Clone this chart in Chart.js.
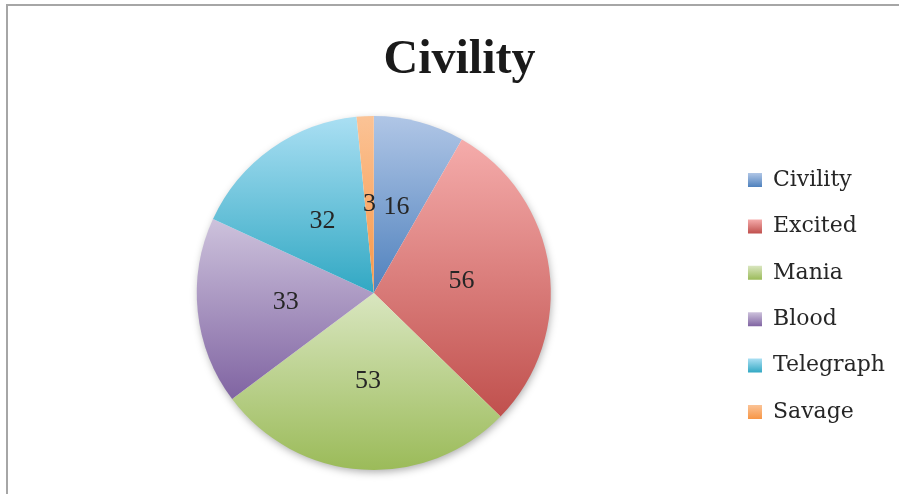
<!DOCTYPE html>
<html>
<head>
<meta charset="utf-8">
<script src="https://cdn.jsdelivr.net/npm/chart.js@4/dist/chart.umd.min.js"></script>
<style>
  html, body { margin: 0; padding: 0; background: #fff; }
  #wrap { position: relative; width: 899px; height: 494px; }
  #frame { position: absolute; left: 6px; top: 4px; width: 900px; height: 500px;
           border-top: 2px solid #a6a6a6; border-left: 2px solid #a6a6a6; box-sizing: border-box; }
  canvas { position: absolute; left: 0; top: 0; }
</style>
</head>
<body>
<div id="wrap">
  <div id="frame"></div>
  <canvas id="c" width="899" height="494"></canvas>
</div>
<script>
const categories = ['Civility', 'Excited', 'Mania', 'Blood', 'Telegraph', 'Savage'];
const values = [16, 56, 53, 33, 32, 3];
const titleText = 'Civility';
const topColors = ['#b0c6e6', '#f5acab', '#d9e6c0', '#cdc2dc', '#aadff3', '#fbc396'];
const bottomColors = ['#4f81bd', '#c0504d', '#9bbb59', '#8064a2', '#31a8c3', '#f79646'];

function arcYRange(el) {
  const pts = [el.y];
  const a0 = el.startAngle, a1 = el.endAngle, r = el.outerRadius;
  pts.push(el.y + r * Math.sin(a0), el.y + r * Math.sin(a1));
  for (let k = -4; k <= 4; k++) {
    const a = Math.PI / 2 + k * Math.PI;
    if (a > a0 && a < a1) pts.push(el.y + r * Math.sin(a));
  }
  return [Math.min(...pts), Math.max(...pts)];
}

const gradientPlugin = {
  id: 'sliceGradients',
  beforeDraw(chart) {
    const ctx = chart.ctx;
    const lg = chart.legend;
    if (lg && lg.legendItems && lg.legendHitBoxes) {
      lg.legendItems.forEach((item, i) => {
        const hb = lg.legendHitBoxes[i];
        if (!hb) return;
        const bh = 14;
        const top = hb.top + (hb.height - bh) / 2;
        const g = ctx.createLinearGradient(0, top, 0, top + bh);
        g.addColorStop(0, topColors[item.index]);
        g.addColorStop(1, bottomColors[item.index]);
        item.fillStyle = g;
      });
    }
  },
  beforeDatasetsDraw(chart) {
    const meta = chart.getDatasetMeta(0);
    const ctx = chart.ctx;
    const first = meta.data[0];
    if (first) {
      ctx.save();
      ctx.beginPath();
      ctx.arc(first.x, first.y, first.outerRadius - 1, 0, Math.PI * 2);
      ctx.fillStyle = '#ffffff';
      ctx.shadowColor = 'rgba(0,0,0,0.35)';
      ctx.shadowBlur = 8;
      ctx.shadowOffsetX = 1;
      ctx.shadowOffsetY = 3;
      ctx.fill();
      ctx.restore();
    }
    meta.data.forEach((el, i) => {
      const [y0, y1] = arcYRange(el);
      const g = ctx.createLinearGradient(0, y0, 0, y1);
      g.addColorStop(0, topColors[i]);
      g.addColorStop(1, bottomColors[i]);
      el.options = Object.assign({}, el.options, { backgroundColor: g });
    });
  }
};

const labelPlugin = {
  id: 'sliceLabels',
  afterDatasetsDraw(chart) {
    const meta = chart.getDatasetMeta(0);
    const ctx = chart.ctx;
    ctx.save();
    ctx.font = '26px "Liberation Serif", serif';
    ctx.fillStyle = '#262626';
    ctx.textAlign = 'center';
    ctx.textBaseline = 'middle';
    meta.data.forEach((el, i) => {
      const p = el.tooltipPosition();
      ctx.fillText(String(values[i]), p.x, p.y);
    });
    ctx.restore();
  }
};

new Chart(document.getElementById('c'), {
  type: 'pie',
  data: {
    labels: categories,
    datasets: [{
      data: values,
      backgroundColor: bottomColors,
      borderWidth: 0
    }]
  },
  options: {
    responsive: false,
    animation: false,
    layout: { padding: { left: 24, right: 4, top: 5, bottom: 24 } },
    plugins: {
      tooltip: { enabled: false },
      title: {
        display: true,
        text: titleText,
        color: '#1a1a1a',
        font: { family: '"Liberation Serif", serif', size: 48, weight: 'bold' },
        padding: { top: 27, bottom: 26.4 }
      },
      legend: {
        position: 'right',
        fullSize: false,
        title: { display: true, text: '', font: { size: 6, lineHeight: 1 }, padding: 0 },
        labels: {
          color: '#262626',
          font: { family: '"DejaVu Serif", serif', size: 22 },
          boxWidth: 14,
          boxHeight: 14,
          padding: 24.4,
          generateLabels(chart) {
            return categories.map((c, i) => ({
              text: c,
              fillStyle: bottomColors[i],
              strokeStyle: bottomColors[i],
              lineWidth: 0,
              hidden: false,
              index: i,
              fontColor: '#262626'
            }));
          }
        }
      }
    }
  },
  plugins: [gradientPlugin, labelPlugin]
});
</script>
</body>
</html>
